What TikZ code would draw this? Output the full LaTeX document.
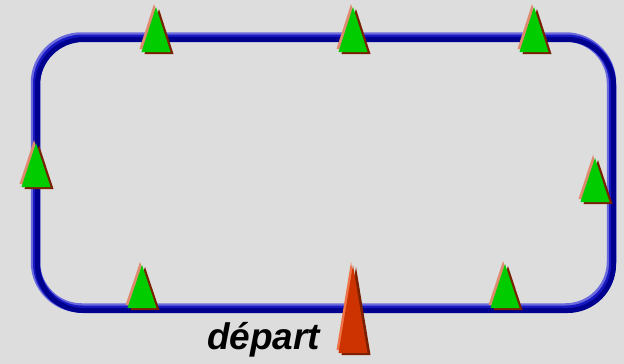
\documentclass[tikz,border=0pt]{standalone}
\usepackage{fontspec}
\setmainfont{Liberation Sans}
\definecolor{bgGrey}{HTML}{DDDDDD}
\definecolor{trackLight}{HTML}{6A6ADE}
\definecolor{trackMid}{HTML}{1818C0}
\definecolor{trackDark}{HTML}{00008E}
\definecolor{coneGreen}{HTML}{00CC00}
\definecolor{coneRed}{HTML}{CC3300}
\definecolor{edgeLight}{HTML}{E08A70}
\definecolor{edgeDark}{HTML}{7A2000}
\definecolor{redLight}{HTML}{EE7448}

% \trackcone{apex x}{apex y}{base y}{face colour}{light edge}
\newcommand\trackcone[5]{%
  \fill[#5] (#1-2,#2-3) -- (#1-16.5,#3-3) -- (#1+12.5,#3-3) -- cycle;
  \fill[edgeDark] (#1+3,#2+2) -- (#1-11.5,#3+2) -- (#1+17.5,#3+2) -- cycle;
  \fill[#4] (#1,#2) -- (#1-14.5,#3) -- (#1+14.5,#3) -- cycle;
}

\begin{document}
\begin{tikzpicture}[x=1pt,y=-1pt]
  \useasboundingbox (0,0) rectangle (624,364);
  \fill[bgGrey] (0,0) rectangle (624,364);

  % the circuit, shaded as a tube lit from the upper left
  \draw[trackLight, line width=9.5pt, rounded corners=46pt]
    (35.5,37) rectangle (611.5,308);
  \draw[trackMid, line width=7pt, rounded corners=46pt]
    (36.5,38) rectangle (612.5,309);
  \draw[trackDark, line width=5pt, rounded corners=46pt]
    (37.5,39.5) rectangle (613.5,310.5);

  % cones along the circuit
  \trackcone{156}{7}{52}{coneGreen}{edgeLight}
  \trackcone{353}{7}{52}{coneGreen}{edgeLight}
  \trackcone{534}{7}{52}{coneGreen}{edgeLight}
  \trackcone{36}{143}{187}{coneGreen}{edgeLight}
  \trackcone{595}{158}{202}{coneGreen}{edgeLight}
  \trackcone{142}{265}{308}{coneGreen}{edgeLight}
  \trackcone{505}{264}{308}{coneGreen}{edgeLight}

  % starting cone
  \trackcone{353}{265}{353}{coneRed}{redLight}

  \node[anchor=base west, inner sep=0pt, font=\fontsize{37}{37}\selectfont\bfseries\itshape]
    (start) at (207,349) {départ};
\end{tikzpicture}
\end{document}
